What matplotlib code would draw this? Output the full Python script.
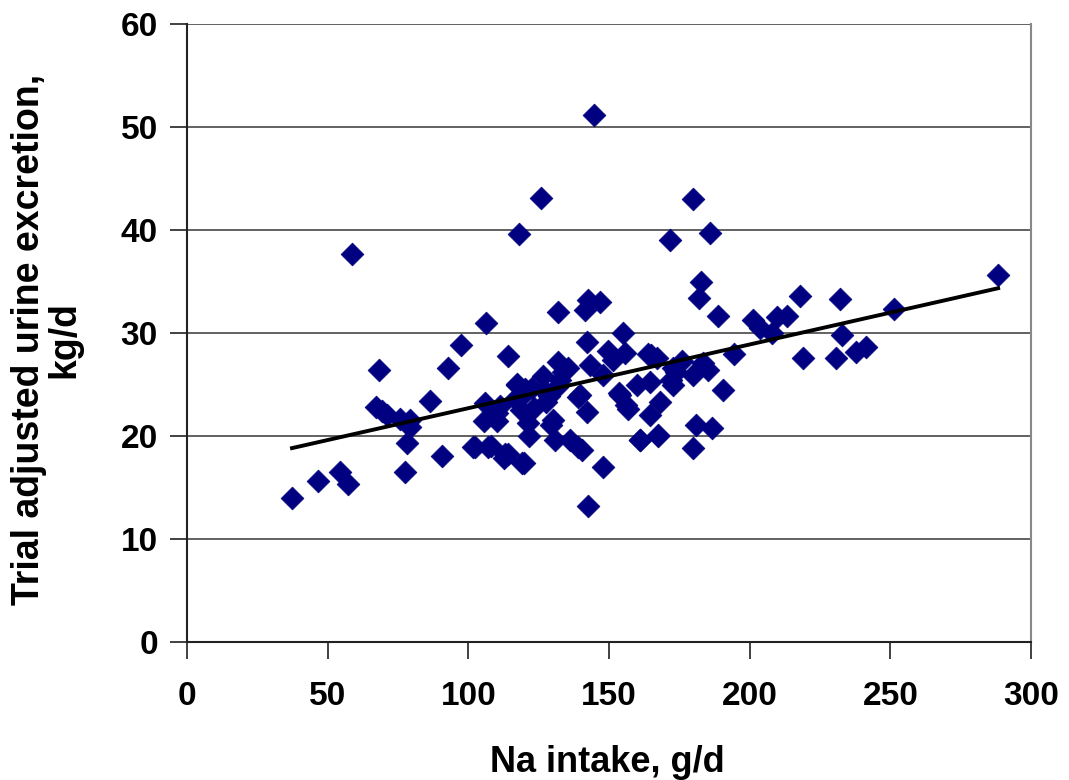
import numpy as np
import matplotlib
matplotlib.use("Agg")
import matplotlib.pyplot as plt

plt.rcParams['font.family'] = ['Liberation Sans', 'DejaVu Sans']

na_intake = [37.3, 46.6, 54.4, 57.2, 58.7, 68.3, 67.2, 69.3, 71.0, 75.7,
             78.2, 77.5, 79.3, 79.3, 86.4, 90.6, 92.9, 97.2, 106.4, 101.8,
             107.1, 106.0, 105.7, 110.0, 110.3, 111.4, 112.5, 113.9, 114.2, 116.4,
             117.4, 118.1, 119.1, 119.8, 118.7, 121.2, 121.5, 123.4, 125.8, 126.5,
             128.7, 129.3, 130.8, 131.9, 131.9, 132.7, 131.6, 135.4, 136.1, 138.8,
             139.7, 140.4, 142.3, 142.3, 141.5, 142.6, 144.7, 142.6, 143.3, 146.8,
             148.0, 148.0, 151.4, 153.6, 155.0, 155.7, 156.1, 156.6, 160.0, 161.0,
             163.9, 164.6, 164.6, 166.9, 167.4, 168.0, 171.6, 172.8, 172.8, 173.8,
             180.0, 180.0, 180.8, 182.6, 181.9, 186.0, 186.6, 190.5, 188.8, 194.3,
             201.2, 203.7, 208.0, 209.7, 213.3, 218.0, 219.0, 230.7, 232.1, 232.8,
             237.8, 241.4, 251.3, 288.3, 127.5, 117.4, 120.0, 139.0, 154.0, 165.0,
             172.0, 180.0, 183.4, 185.2, 167.4, 161.0, 129.9, 113.0, 119.6, 102.5,
             127.0, 108.0, 122.5, 133.5, 149.5, 176.0]
urine_excretion = [14.0, 15.6, 16.5, 15.3, 37.7, 26.4, 22.8, 22.4, 22.0, 21.7,
                   19.3, 16.5, 21.6, 20.9, 23.4, 18.1, 26.6, 28.8, 31.0, 18.9,
                   18.9, 23.2, 21.5, 21.5, 22.2, 22.9, 17.9, 18.3, 27.8, 23.6,
                   25.0, 39.6, 17.4, 24.1, 22.5, 21.3, 20.0, 22.7, 43.1, 25.8,
                   23.9, 21.1, 19.6, 32.0, 27.2, 25.4, 24.8, 26.6, 19.6, 18.9,
                   24.0, 18.6, 29.1, 22.3, 32.2, 33.2, 51.2, 13.2, 26.9, 33.0,
                   25.9, 17.0, 27.4, 24.2, 30.0, 28.1, 23.0, 22.6, 25.0, 19.6,
                   28.0, 25.2, 22.0, 27.6, 20.0, 23.3, 39.0, 25.0, 26.6, 26.2,
                   43.0, 18.8, 21.1, 35.0, 33.4, 39.7, 20.8, 24.5, 31.7, 28.0,
                   31.3, 30.5, 30.0, 31.6, 31.7, 33.6, 27.6, 27.6, 33.3, 29.8,
                   28.2, 28.6, 32.3, 35.6, 23.3, 25.1, 24.6, 23.8, 24.0, 27.9,
                   25.4, 25.9, 27.1, 26.4, 20.1, 19.6, 21.6, 18.3, 17.4, 18.9,
                   24.5, 19.0, 24.7, 26.2, 28.3, 27.3]

x_ticks = [0, 50, 100, 150, 200, 250, 300]
y_ticks = [0, 10, 20, 30, 40, 50, 60]

fig = plt.figure(figsize=(10.69, 7.80), dpi=100)
ax = fig.add_axes([0.175, 0.177, 0.7895, 0.792])

ax.set_xlim(0, 300)
ax.set_ylim(0, 60)
ax.set_xticks(x_ticks)
ax.set_yticks(y_ticks)
ax.yaxis.grid(True, color='#555555', linewidth=1.3)
ax.set_axisbelow(True)

ax.scatter(na_intake, urine_excretion, marker='D', s=135, color='#000080',
           edgecolors='#000080', linewidths=0.5, zorder=3)

xa = np.array(na_intake)
ya = np.array(urine_excretion)
slope, intercept = np.polyfit(xa, ya, 1)
xl = np.array([xa.min(), xa.max()])
ax.plot(xl, slope * xl + intercept, color='black', linewidth=2.8, zorder=4)

for s in ['left', 'bottom']:
    ax.spines[s].set_color('#222222')
    ax.spines[s].set_linewidth(1.5)
ax.spines['right'].set_color('#888888')
ax.spines['right'].set_linewidth(1.5)
ax.spines['top'].set_visible(False)

ax.tick_params(axis='both', direction='out', length=12, width=1.3, color='#333333',
               labelsize=24)
ax.tick_params(axis='x', pad=16)
ax.tick_params(axis='y', pad=9)
for lab in ax.get_xticklabels() + ax.get_yticklabels():
    lab.set_fontweight('bold')

ax.set_xlabel('Na intake, g/d', fontsize=26, fontweight='bold', va='baseline')
ax.xaxis.set_label_coords(0.4976, -0.2104)
ax.set_ylabel('Trial adjusted urine excretion,\nkg/d', fontsize=27,
              fontweight='bold', linespacing=1.0, va='center', ha='center')
ax.yaxis.set_label_coords(-0.1665, 0.49)

fig.savefig('out.png', dpi=100)
